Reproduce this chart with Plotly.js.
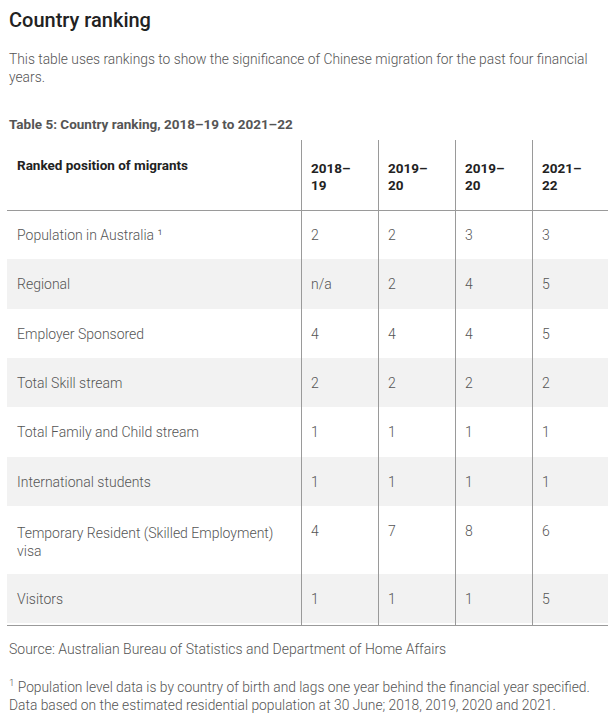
<!DOCTYPE html>
<html>
<head>
<meta charset="utf-8">
<script src="https://cdn.plot.ly/plotly-3.0.1.min.js"></script>
<style>
  html, body { margin: 0; padding: 0; background: #ffffff; }
  #chart { width: 610px; height: 719px; }
</style>
</head>
<body>
<div id="chart"></div>
<script>
// ---- Data ----
const headerLabels = ['Ranked position of migrants', '2018–<br>19', '2019–<br>20', '2019–<br>20', '2021–<br>22'];
const rowLabels = [
  'Population in Australia \u00b9',
  'Regional',
  'Employer Sponsored',
  'Total Skill stream',
  'Total Family and Child stream',
  'International students',
  'Temporary Resident (Skilled Employment)<br>visa',
  'Visitors'
];
const fy2018_19 = ['2', 'n/a', '4', '2', '1', '1', '4', '1'];
const fy2019_20 = ['2', '2', '4', '2', '1', '1', '7', '1'];
const fy2020_21 = ['3', '4', '4', '2', '1', '1', '8', '1'];
const fy2021_22 = ['3', '5', '5', '2', '1', '1', '6', '5'];

const titleText = 'Country ranking';
const descText = 'This table uses rankings to show the significance of Chinese migration for the past four financial<br>years.';
const captionText = 'Table 5: Country ranking, 2018–19 to 2021–22';
const sourceText = 'Source: Australian Bureau of Statistics and Department of Home Affairs';
const footnoteText = '<sup>1</sup> Population level data is by country of birth and lags one year behind the financial year specified.<br>Data based on the estimated residential population at 30 June; 2018, 2019, 2020 and 2021.';

// ---- Layout constants ----
const W = 610, H = 719;
const tableLeft = 7, tableRight = 608, tableTop = 140;
const colWidths = [294, 77, 77, 77, 76];
const headerH = 70, cellH = 49.3, tallRowH = 70;
const textShiftY = 11.5, textShiftX = 2;
const FONT = 'Roboto, "Open Sans", sans-serif';
const textColor = '#555555';
const headColor = '#222222';
const ruleColor = '#9a9a9a';

const px = v => v / W, py = v => 1 - v / H;

const isTall = l => l.indexOf('<br>') >= 0;
// foreground (text) columns; multi-line rows get one trailing blank line so the row grows to its padded height
const labelCol = rowLabels.map(l => isTall(l) ? l + '<br>\u00a0' : l);
const columns = [labelCol, fy2018_19, fy2019_20, fy2020_21, fy2021_22];
// background (fill) columns: no visible text; same line count so rows match the text table
const blankCol = rowLabels.map(l => isTall(l) ? '\u00a0<br>\u00a0<br>\u00a0' : '');
const bgColumns = [blankCol].concat(columns.slice(1).map(c => c.map(() => '')));
const rowFills = rowLabels.map((_, i) => (i % 2 === 0 ? '#ffffff' : '#f2f2f2'));

const cellFont = { family: FONT, size: 14, color: textColor, weight: 300 };
const headFont = { family: FONT, size: 13.5, color: headColor, weight: 700 };
const noLine = { width: 0, color: 'rgba(0,0,0,0)' };

const bgTable = {
  type: 'table',
  domain: { x: [px(tableLeft), px(tableRight)], y: [0, py(tableTop)] },
  columnwidth: colWidths,
  header: { values: headerLabels.map(() => ''), height: headerH, fill: { color: '#ffffff' }, line: noLine, font: headFont },
  cells: { values: bgColumns, height: cellH, fill: { color: [rowFills] }, line: noLine, font: cellFont },
  hoverinfo: 'skip'
};

const fgTable = {
  type: 'table',
  domain: { x: [px(tableLeft + textShiftX), px(tableRight + textShiftX)], y: [0, py(tableTop + textShiftY)] },
  columnwidth: colWidths,
  header: { values: headerLabels, align: 'left', height: headerH, fill: { color: 'rgba(0,0,0,0)' }, line: noLine, font: headFont },
  cells: { values: columns, align: 'left', height: cellH, fill: { color: 'rgba(0,0,0,0)' }, line: noLine, font: cellFont },
  hoverinfo: 'skip'
};

// rule lines derived from column widths and row heights
const totalW = colWidths.reduce((a, b) => a + b, 0);
const scale = (tableRight - tableLeft) / totalW;
const bounds = [];
let acc = tableLeft;
for (let i = 0; i < colWidths.length - 1; i++) { acc += colWidths[i] * scale; bounds.push(acc); }
const headerBottom = tableTop + headerH;
const nTall = rowLabels.filter(isTall).length;
const tableBottom = headerBottom + cellH * (rowLabels.length - nTall) + tallRowH * nTall;

const shapes = [];
bounds.forEach(b => shapes.push({
  type: 'line', xref: 'paper', yref: 'paper',
  x0: px(Math.round(b) + 0.5), x1: px(Math.round(b) + 0.5), y0: py(tableTop), y1: py(tableBottom),
  line: { color: ruleColor, width: 1 }
}));
[headerBottom, tableBottom].forEach(y => shapes.push({
  type: 'line', xref: 'paper', yref: 'paper',
  x0: px(tableLeft), x1: px(tableRight), y0: py(Math.round(y) + 0.5), y1: py(Math.round(y) + 0.5),
  line: { color: ruleColor, width: 1.2 }
}));

const ann = (text, y, size, color, weight) => ({
  text: text, xref: 'paper', yref: 'paper', x: px(tableLeft), y: py(y),
  xanchor: 'left', yanchor: 'middle', align: 'left', showarrow: false,
  font: { family: FONT, size: size, color: color, weight: weight }
});

const annotations = [
  ann(titleText, 20, 20, '#222222', 500),
  ann(descText, 68, 13.8, textColor, 300),
  ann(captionText, 124, 13.5, textColor, 700),
  ann(sourceText, 649, 14, textColor, 300),
  ann(footnoteText, 695, 13.8, textColor, 300)
];

const layout = {
  width: W, height: H,
  margin: { l: 0, r: 0, t: 0, b: 0 },
  paper_bgcolor: '#ffffff',
  showlegend: false,
  shapes: shapes,
  annotations: annotations
};

Plotly.newPlot('chart', [bgTable, fgTable], layout, { displayModeBar: false, staticPlot: true });
</script>
</body>
</html>
